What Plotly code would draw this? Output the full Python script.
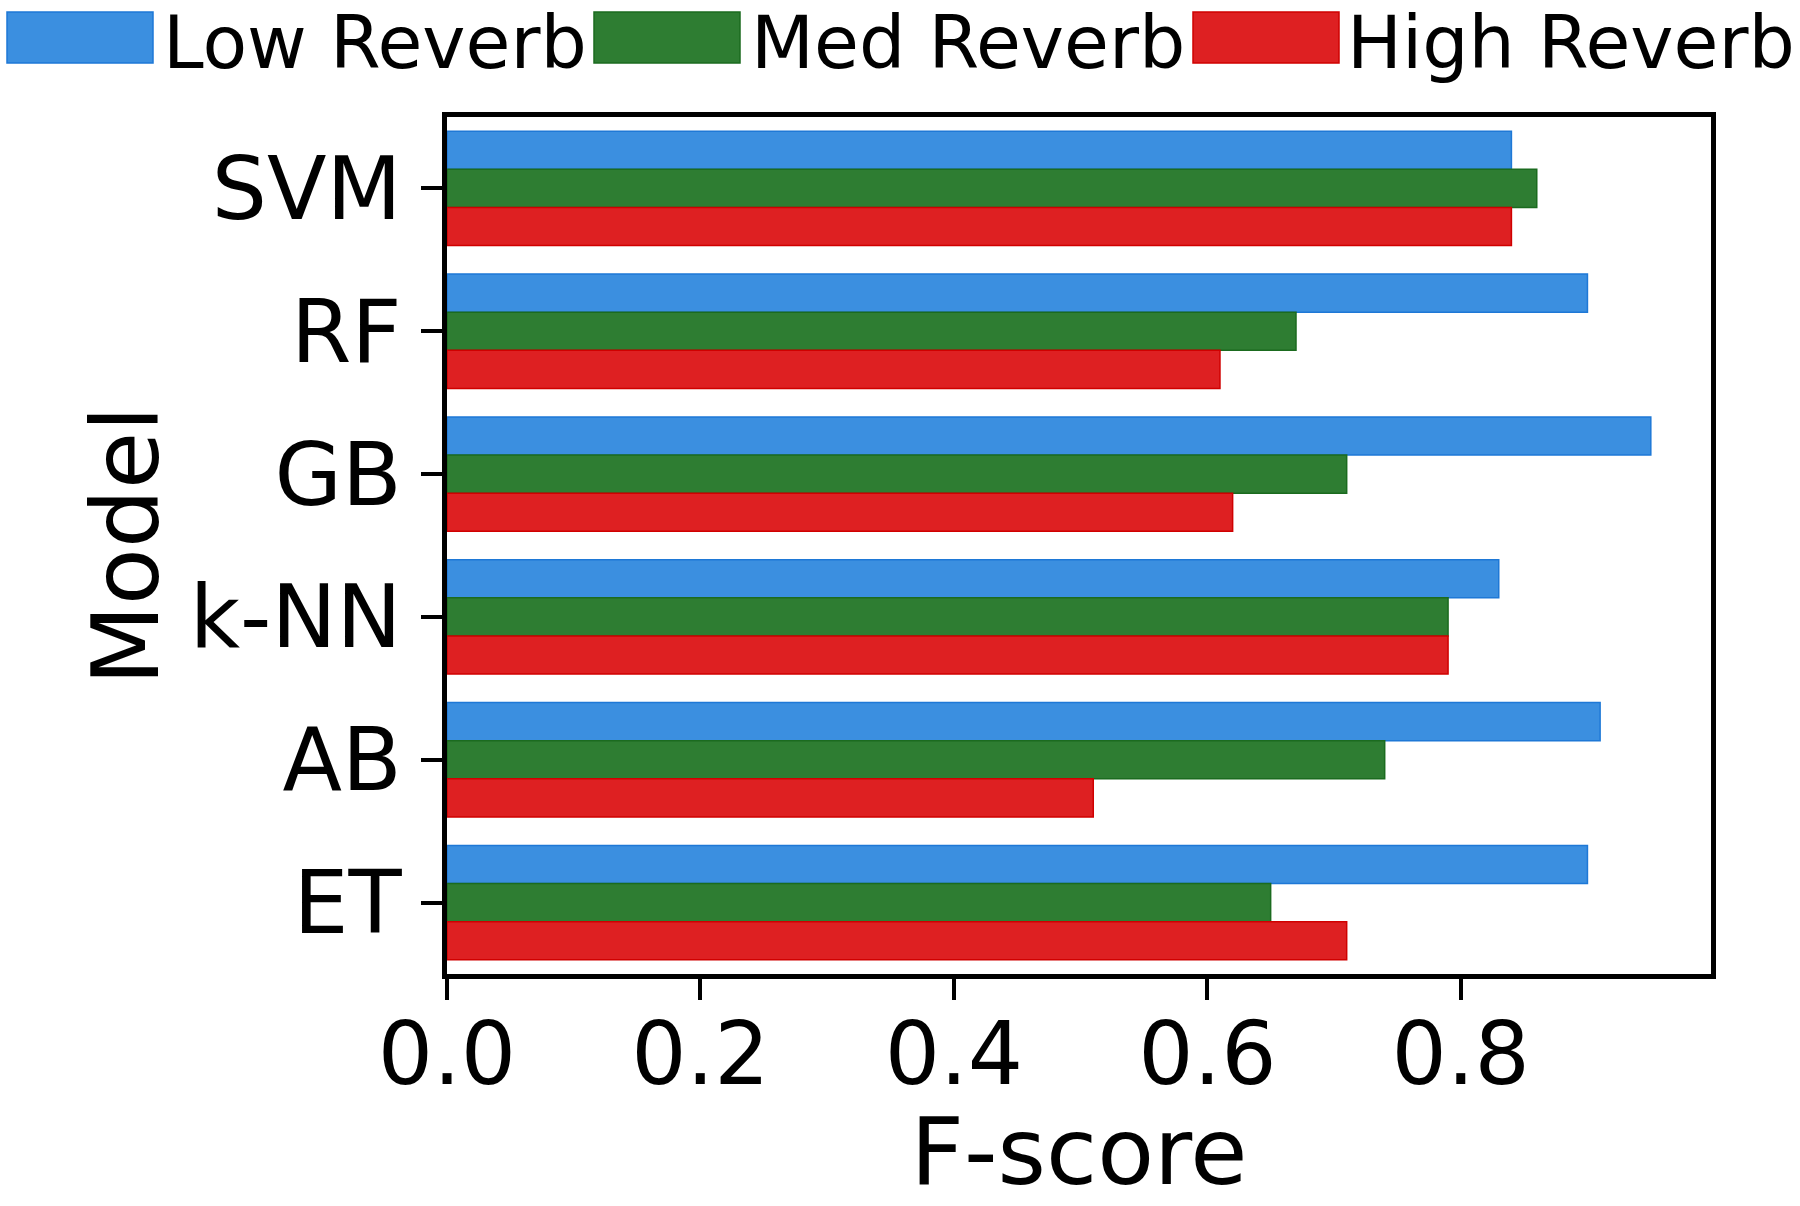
import plotly.graph_objects as go

# ---------------- data ----------------
models = ["SVM", "RF", "GB", "k-NN", "AB", "ET"]
series_names = ["Low Reverb", "Med Reverb", "High Reverb"]
low_reverb = [0.84, 0.90, 0.95, 0.83, 0.91, 0.90]
med_reverb = [0.86, 0.67, 0.71, 0.79, 0.74, 0.65]
high_reverb = [0.84, 0.61, 0.62, 0.79, 0.51, 0.71]
x_ticks = [0.0, 0.2, 0.4, 0.6, 0.8]

# ---------------- style ----------------
fills = ["#3B8FE0", "#2E7D32", "#DE2022"]
edges = ["#1E78D6", "#1B6B1F", "#D00000"]

W, H = 1800, 1206
L, R, T, B = 447, 1711, 117, 974  # plot area in pixels

fig = go.Figure()
for name, vals, f, e in zip(series_names, [low_reverb, med_reverb, high_reverb], fills, edges):
    fig.add_trace(go.Bar(
        y=models, x=vals, name=name, orientation="h",
        marker=dict(color=f, line=dict(color=e, width=1.5)),
    ))

fig.update_layout(
    width=W, height=H,
    margin=dict(l=L, r=W - R, t=T, b=H - B, pad=0, autoexpand=False),
    barmode="group", bargap=0.2, bargroupgap=0,
    showlegend=False,
    plot_bgcolor="white", paper_bgcolor="white",
    font=dict(family="DejaVu Sans", color="black"),
)

xmax = max(low_reverb + med_reverb + high_reverb) * 1.05
fig.update_xaxes(
    automargin=False,
    range=[0, xmax],
    tickvals=x_ticks, ticktext=[f"{v:.1f}" for v in x_ticks],
    tickfont=dict(size=87), ticks="outside", ticklen=21, tickwidth=4, tickcolor="black",
    ticklabelstandoff=-20,
    showline=True, linecolor="black", linewidth=5, mirror=True,
    showgrid=False, zeroline=False,
    title=dict(text="F-score", font=dict(size=93), standoff=36),
)
fig.update_yaxes(
    automargin=False,
    autorange="reversed",
    tickfont=dict(size=87), ticks="outside", ticklen=21, tickwidth=4, tickcolor="black",
    ticklabelstandoff=2,
    showline=True, linecolor="black", linewidth=5, mirror=True,
    showgrid=False, zeroline=False,
    title=dict(text="Model", font=dict(size=93), standoff=2),
)

# ---------------- legend (drawn manually, wide patches) ----------------
patch_left = [7, 594, 1193]
patch_w = 146
patch_top, patch_bot = 12, 63
text_left = [162, 750, 1346]

def px(x):
    return (x - L) / (R - L)

def py(y):
    return (B - y) / (B - T)

for i, name in enumerate(series_names):
    fig.add_shape(
        type="rect", xref="paper", yref="paper",
        x0=px(patch_left[i]), x1=px(patch_left[i] + patch_w),
        y0=py(patch_bot), y1=py(patch_top),
        fillcolor=fills[i], line=dict(color=edges[i], width=1.5),
    )
    fig.add_annotation(
        xref="paper", yref="paper",
        x=px(text_left[i]), y=py(43),
        text=name, showarrow=False, xanchor="left", yanchor="middle",
        borderpad=0,
        font=dict(size=73, color="black", family="DejaVu Sans"),
    )

fig.write_html("out.html")
